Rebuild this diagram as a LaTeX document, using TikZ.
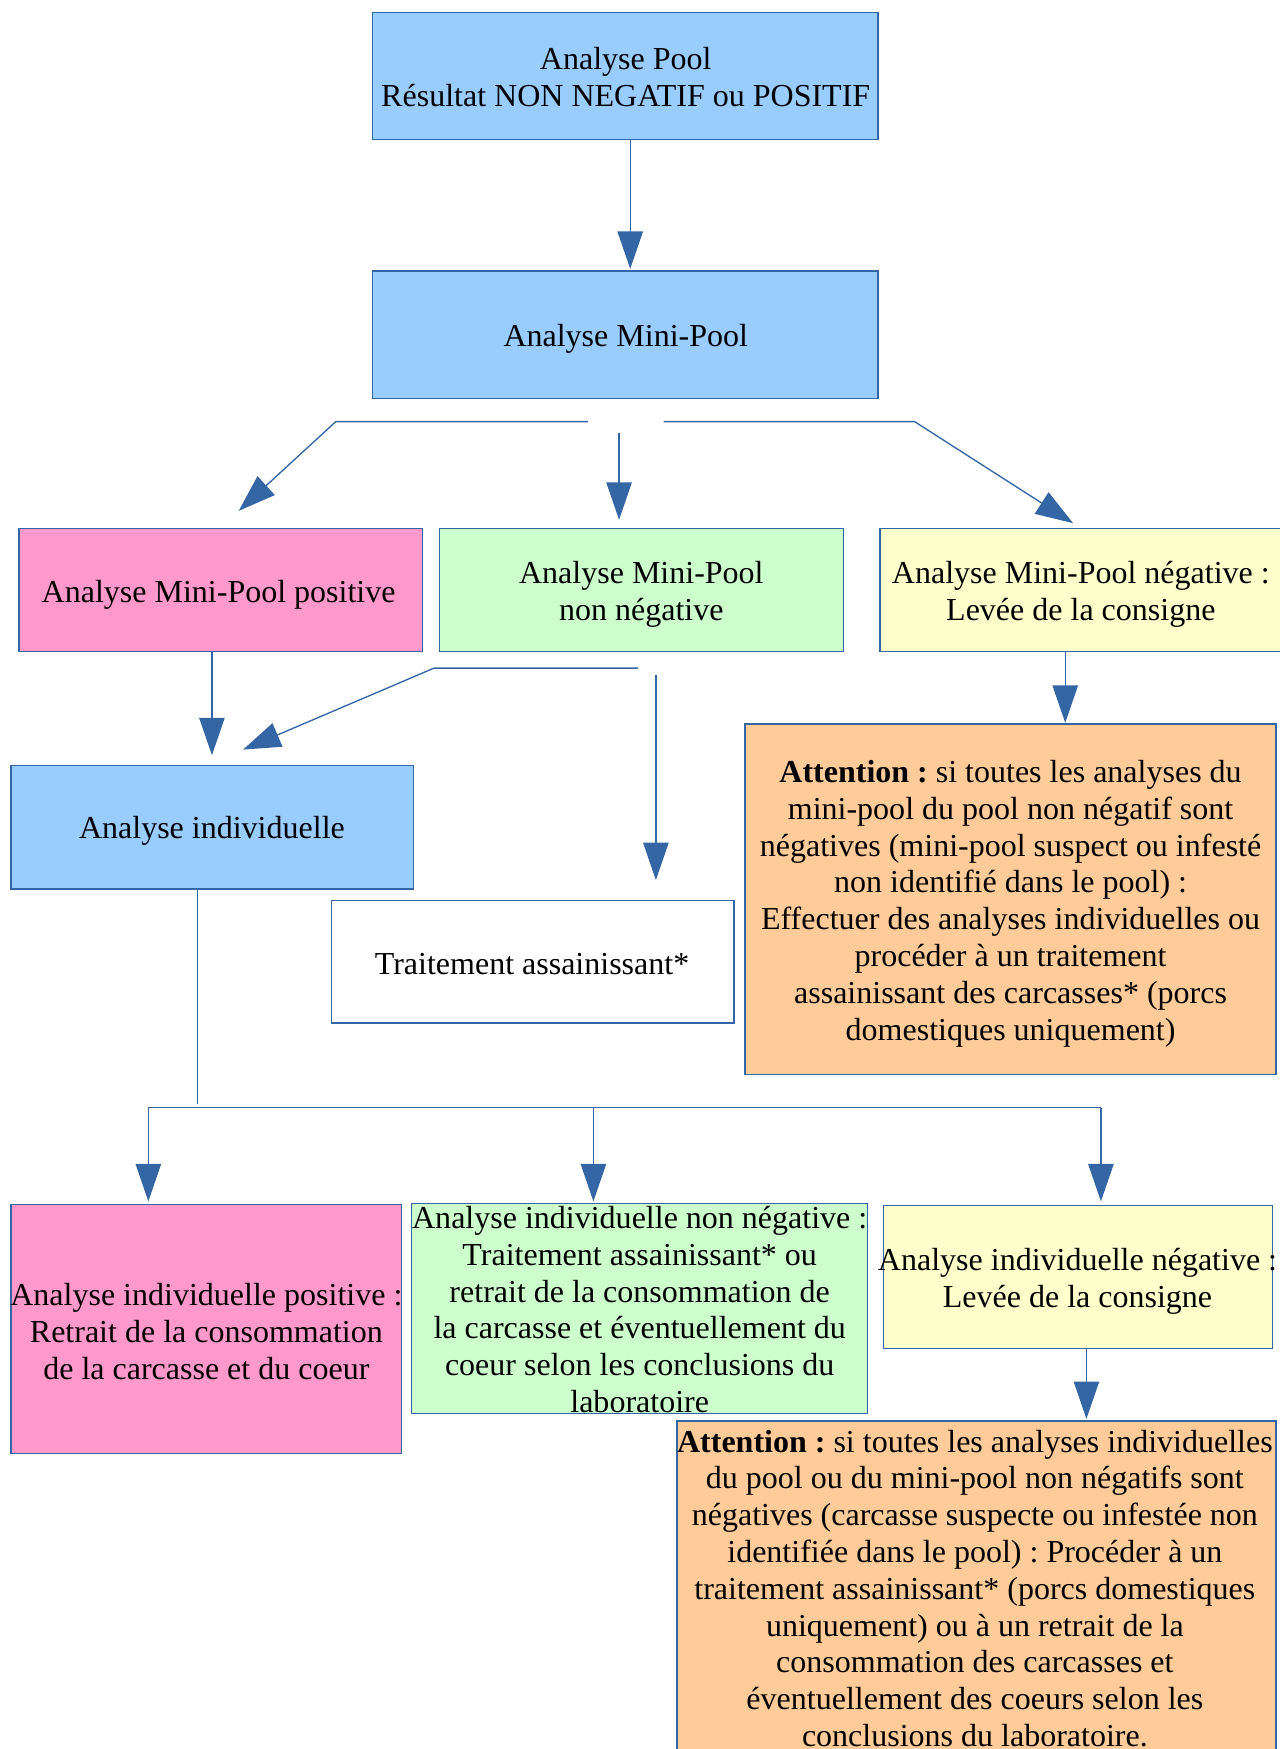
\documentclass[tikz,border=0pt]{standalone}
\usepackage{fontspec}
\setmainfont{Liberation Serif}
\usetikzlibrary{arrows.meta,fit}
\frenchspacing
\definecolor{ln}{HTML}{3465A4}
\definecolor{cblue}{HTML}{99CCFF}
\definecolor{cpink}{HTML}{FF99CC}
\definecolor{cgreen}{HTML}{CCFFCC}
\definecolor{cyellow}{HTML}{FFFFCC}
\definecolor{corange}{HTML}{FFCC99}
\tikzset{
  box/.style={draw=ln, line width=0.5pt, inner sep=0pt},
  txt/.style={align=center, inner sep=0pt, font=\fontsize{12pt}{13.8pt}\selectfont\frenchspacing},
  ln/.style={draw=ln, line width=0.5pt},
  arr/.style={draw=ln, line width=0.5pt, -{Triangle[length=14pt,width=9.5pt]}}
}
\begin{document}
\begin{tikzpicture}[x=0.41816pt,y=-0.41816pt]
\useasboundingbox (0,0) rectangle (1147,1568);
% boxes
\node[box, fill=cblue, fit={(334,11) (787,125)}] (pool) {};
\node[txt] (poolt) at (561,69) {Analyse Pool\\Résultat NON NEGATIF ou POSITIF};
\node[box, fill=cblue, fit={(334,243) (787,357)}] (mini) {};
\node[txt] (minit) at (561,304) {Analyse Mini-Pool};
\node[box, fill=cpink, fit={(17,474) (379,584)}] (mpos) {};
\node[txt] (mpost) at (196,533) {Analyse Mini-Pool positive};
\node[box, fill=cgreen, fit={(394,474) (756,584)}] (mnn) {};
\node[txt] (mnnt) at (575,533) {Analyse Mini-Pool\\non négative};
\node[box, fill=cyellow, fit={(789,474) (1152,584)}] (mneg) {};
\node[txt] (mnegt) at (969,533) {Analyse Mini-Pool négative :\\Levée de la consigne};
\node[box, fill=corange, fit={(668,649) (1144,963)}] (att1) {};
\node[txt] (att1t) at (906,810) {\textbf{Attention :} si toutes les analyses du\\mini-pool du pool non négatif sont\\négatives (mini-pool suspect ou infesté\\non identifié dans le pool) :\\Effectuer des analyses individuelles ou\\procéder à un traitement\\assainissant des carcasses* (porcs\\domestiques uniquement)};
\node[box, fill=cblue, fit={(10,686) (371,797)}] (ind) {};
\node[txt] (indt) at (190,745) {Analyse individuelle};
\node[box, fill=white, fit={(297,807) (658,917)}] (trt) {};
\node[txt] (trtt) at (477,864) {Traitement assainissant*};
\node[box, fill=cpink, fit={(10,1080) (360,1303)}] (ipos) {};
\node[txt] (ipost) at (185,1194) {Analyse individuelle positive :\\Retrait de la consommation\\de la carcasse et du coeur};
\node[box, fill=cgreen, fit={(369,1079) (778,1267)}] (inn) {};
\node[txt] (innt) at (573.5,1174) {Analyse individuelle non négative :\\Traitement assainissant* ou\\retrait de la consommation de\\la carcasse et éventuellement du\\coeur selon les conclusions du\\laboratoire};
\node[box, fill=cyellow, fit={(792,1081) (1141,1209)}] (ineg) {};
\node[txt] (inegt) at (966,1149) {Analyse individuelle négative :\\Levée de la consigne};
\node[box, fill=corange, fit={(607,1274) (1144,1600)}] (att2) {};
\node[txt] (att2t) at (874,1424) {\textbf{Attention :} si toutes les analyses individuelles\\du pool ou du mini-pool non négatifs sont\\négatives (carcasse suspecte ou infestée non\\identifiée dans le pool) : Procéder à un\\traitement assainissant* (porcs domestiques\\uniquement) ou à un retrait de la\\consommation des carcasses et\\éventuellement des coeurs selon les\\conclusions du laboratoire.};
% connector coordinates
\coordinate (x565) at (565,0);
\coordinate (t1) at (565,241);
\coordinate (la) at (527,378);
\coordinate (lb) at (301,378);
\coordinate (lt) at (214,458);
\coordinate (ma) at (555,388);
\coordinate (mt) at (555,466);
\coordinate (ra) at (595,378);
\coordinate (rb) at (820,378);
\coordinate (rt) at (962,469);
\coordinate (x955) at (955,0);
\coordinate (y1t) at (955,648);
\coordinate (x190) at (190,0);
\coordinate (p1t) at (190,677);
\coordinate (ga) at (572,599);
\coordinate (gb) at (389,599);
\coordinate (gt) at (218,672);
\coordinate (va) at (588,605);
\coordinate (vt) at (588,789);
\coordinate (x177) at (177,0);
\coordinate (iend) at (177,990);
\coordinate (h1) at (133,993);
\coordinate (h2) at (532,993);
\coordinate (h3) at (987,993);
\coordinate (h1t) at (133,1077);
\coordinate (h2t) at (532,1077);
\coordinate (h3t) at (987,1077);
\coordinate (x974) at (974,0);
\coordinate (y2t) at (974,1272);
% connectors
\draw[arr] (pool.south -| x565) -- (t1);
\draw[arr] (la) -- (lb) -- (lt);
\draw[arr] (ma) -- (mt);
\draw[arr] (ra) -- (rb) -- (rt);
\draw[arr] (mneg.south -| x955) -- (y1t);
\draw[arr] (mpos.south -| x190) -- (p1t);
\draw[arr] (ga) -- (gb) -- (gt);
\draw[arr] (va) -- (vt);
\draw[ln] (ind.south -| x177) -- (iend);
\draw[ln] (h1) -- (h3);
\draw[arr] (h1) -- (h1t);
\draw[arr] (h2) -- (h2t);
\draw[arr] (h3) -- (h3t);
\draw[arr] (ineg.south -| x974) -- (y2t);
\end{tikzpicture}
\end{document}
